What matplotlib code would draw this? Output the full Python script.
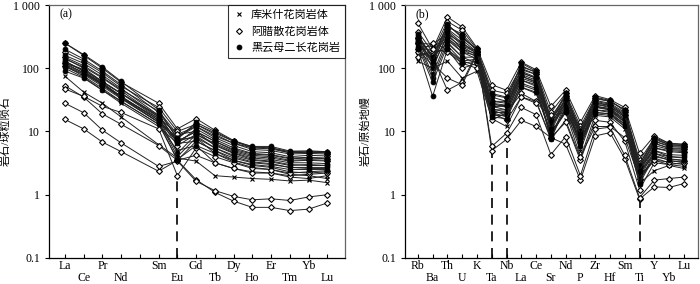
import numpy as np
import matplotlib
matplotlib.use("Agg")
import matplotlib.pyplot as plt

plt.rcParams['font.family'] = ['Liberation Serif', 'Noto Sans CJK SC']
plt.rcParams['axes.unicode_minus'] = False

# chondrite-normalised REE (Pm not analysed -> None)
ree_elements = ['La', 'Ce', 'Pr', 'Nd', 'Pm', 'Sm', 'Eu', 'Gd', 'Tb', 'Dy', 'Ho', 'Er', 'Tm', 'Yb', 'Lu']

kumishi_ree = [
    [75, 42, 28, 17, None, 6.2, 3.8, 3.4, 2.0, 1.9, 1.8, 1.75, 1.65, 1.7, 1.55],
    [110, 75, 48, 30, None, 13, 5.0, 6.0, 3.2, 2.6, 2.3, 2.2, 1.9, 1.8, 2.0],
    [130, 90, 58, 36, None, 15, 7.5, 8.0, 4.5, 3.3, 2.7, 2.5, 2.1, 2.0, 1.8],
    [100, 72, 45, 28, None, 12, 6.5, 7.0, 5.0, 3.5, 2.9, 2.7, 2.3, 2.2, 2.3],
    [145, 100, 62, 40, None, 17, 9.0, 10, 6.0, 4.5, 3.6, 3.4, 3.0, 2.9, 2.9],
    [120, 85, 55, 34, None, 14, 7.0, 8.5, 5.5, 4.0, 3.3, 3.1, 2.7, 2.6, 2.6],
]
alasan_ree = [
    [250, 160, 100, 60, None, 28, 11, 16, 10.5, 7.2, 5.7, 5.5, 4.8, 4.9, 4.8],
    [180, 130, 85, 52, None, 24, 10, 13, 9.0, 6.5, 5.2, 5.0, 4.4, 4.5, 4.4],
    [150, 110, 72, 46, None, 21, 9.0, 12, 8.0, 6.0, 4.8, 4.6, 4.0, 4.2, 4.1],
    [120, 95, 60, 40, None, 18, 7.0, 10, 7.0, 5.2, 4.4, 4.2, 3.7, 3.8, 3.7],
    [110, 82, 55, 35, None, 16, 6.0, 9.0, 6.5, 4.8, 4.0, 3.8, 3.4, 3.5, 3.4],
    [53, 35, 19, 13, None, 6.0, 3.5, 4.2, 3.2, 2.6, 2.2, 2.2, 2.0, 2.1, 2.2],
    [47, 36, 25, 20, None, 11, 2.0, 5.5, 4.0, 3.2, 2.6, 2.5, 2.2, 2.3, 2.4],
    [15.5, 11, 6.8, 4.8, None, 2.35, 3.5, 1.73, 1.09, 0.79, 0.63, 0.63, 0.56, 0.59, 0.74],
    [28, 19.8, 10.5, 6.6, None, 2.8, 3.4, 1.63, 1.16, 0.94, 0.83, 0.86, 0.81, 0.92, 1.0],
]
biotite_ree = [
    [250, 165, 105, 62, None, 22, 7.5, 14, 10, 7.0, 5.8, 5.8, 4.9, 4.9, 4.8],
    [200, 140, 90, 55, None, 20, 8.0, 12, 8.5, 6.5, 5.5, 5.3, 4.6, 4.7, 4.6],
    [160, 120, 78, 48, None, 18, 6.5, 11, 7.5, 5.5, 4.5, 4.3, 3.8, 3.9, 3.8],
    [140, 105, 70, 44, None, 17, 7.0, 10, 7.0, 5.0, 4.2, 4.0, 3.5, 3.6, 3.5],
    [125, 95, 62, 40, None, 16, 4.5, 9.0, 6.2, 4.6, 3.8, 3.6, 3.2, 3.2, 3.1],
    [115, 85, 58, 36, None, 15, 4.0, 8.0, 5.5, 4.2, 3.5, 3.3, 2.9, 3.0, 2.9],
    [105, 80, 52, 33, None, 14, 3.5, 7.0, 5.0, 3.8, 3.2, 3.0, 2.7, 2.7, 2.7],
    [90, 70, 45, 30, None, 13, 3.6, 6.0, 4.5, 3.5, 3.0, 2.8, 2.5, 2.5, 2.5],
    [130, 90, 56, 35, None, 14, 8.0, 13, 9.5, 7.0, 5.5, 5.5, 4.6, 4.7, 4.6],
]

# primitive-mantle-normalised trace elements
spider_elements = ['Rb', 'Ba', 'Th', 'U', 'K', 'Ta', 'Nb', 'La', 'Ce', 'Sr',
                   'Nd', 'P', 'Zr', 'Hf', 'Sm', 'Ti', 'Y', 'Yb', 'Lu']

kumishi_spider = [
    [130, 100, 130, 70, 90, 16, 12, 35, 30, 7.5, 15, 3.8, 18, 17, 11, 1.5, 2.4, 2.9, 2.6],
    [180, 150, 250, 150, 120, 22, 18, 55, 45, 9, 22, 5, 22, 20, 13, 2.0, 3.5, 3.0, 2.8],
    [220, 220, 300, 200, 150, 25, 22, 70, 58, 14, 28, 7, 25, 22, 15, 2.2, 4.2, 3.5, 3.2],
    [160, 180, 200, 130, 110, 20, 17, 50, 40, 10, 20, 6, 20, 19, 12, 1.8, 3.8, 3.2, 3.0],
    [250, 240, 350, 250, 170, 28, 24, 80, 65, 16, 30, 8, 27, 24, 17, 2.6, 5.0, 4.0, 3.8],
    [200, 200, 280, 180, 140, 23, 20, 65, 52, 12, 25, 6.5, 24, 22, 14, 2.3, 4.5, 3.7, 3.5],
]
alasan_spider = [
    [520, 200, 650, 450, 210, 55, 45, 125, 95, 25, 45, 14, 37, 32, 24, 4.5, 8.5, 6.5, 6.3],
    [380, 180, 550, 400, 200, 45, 40, 105, 88, 20, 40, 12, 34, 30, 22, 3.5, 7.8, 6.2, 6.0],
    [300, 160, 480, 320, 190, 38, 34, 95, 80, 17, 36, 11, 31, 28, 20, 3.2, 7.0, 5.8, 5.6],
    [250, 140, 420, 280, 180, 30, 30, 85, 70, 15, 32, 10, 28, 26, 18, 2.8, 6.5, 5.4, 5.2],
    [200, 110, 320, 220, 160, 25, 26, 75, 60, 12, 28, 9, 25, 23, 16, 2.5, 5.5, 5.0, 4.8],
    [180, 250, 200, 100, 120, 15, 20, 40, 30, 8, 14, 3.5, 15, 14, 7, 1.2, 3.2, 3.0, 3.2],
    [150, 200, 180, 120, 100, 20, 15, 35, 28, 18, 20, 4, 12, 12, 8, 1.8, 3.5, 3.3, 3.4],
    [300, 150, 45, 60, 180, 5.0, 7.5, 15, 12, 8, 6.3, 1.7, 8.5, 9.6, 3.7, 0.85, 1.33, 1.3, 1.5],
    [250, 120, 70, 55, 170, 5.8, 9.4, 24, 18.5, 4.3, 8.3, 2.0, 10.9, 11.7, 4.2, 0.9, 1.7, 1.8, 1.9],
]
biotite_spider = [
    [350, 140, 500, 300, 200, 35, 30, 120, 90, 15, 40, 9, 33, 30, 22, 3.0, 8.0, 6.5, 6.2],
    [300, 120, 400, 250, 180, 30, 28, 100, 80, 12, 35, 8, 30, 27, 19, 2.5, 7.0, 6.0, 5.8],
    [280, 100, 350, 200, 170, 25, 25, 85, 70, 10, 30, 7, 27, 25, 17, 2.2, 6.0, 5.2, 5.0],
    [260, 80, 300, 180, 160, 22, 22, 75, 62, 8, 28, 6.5, 25, 23, 15, 2.0, 5.5, 4.8, 4.6],
    [240, 70, 260, 150, 150, 20, 20, 65, 55, 7.5, 25, 6, 22, 21, 14, 1.8, 5.0, 4.3, 4.2],
    [220, 60, 230, 130, 140, 18, 18, 58, 48, 8.5, 22, 7, 20, 19, 13, 1.6, 4.5, 4.0, 3.9],
    [200, 36, 200, 120, 130, 17, 16, 50, 42, 9, 20, 8, 19, 18, 12, 1.5, 4.0, 3.6, 3.5],
    [330, 150, 450, 350, 190, 40, 35, 110, 85, 14, 38, 10, 35, 31, 21, 2.8, 7.5, 6.2, 6.0],
    [270, 130, 380, 230, 175, 28, 26, 90, 72, 11, 33, 9, 29, 26, 18, 2.4, 6.5, 5.5, 5.4],
]

group_labels = ['库米什花岗岩体', '阿腊散花岗岩体', '黑云母二长花岗岩']
group_styles = [
    dict(marker='x', mfc='black', ms=3.5, mew=0.8),
    dict(marker='D', mfc='white', ms=3.0, mew=0.8),
    dict(marker='o', mfc='black', ms=3.5, mew=0.6),
]


def draw_panel(ax, elements, groups, dashed_at, ylabel, tag, label_x):
    x = np.arange(len(elements))
    for samples, style in zip(groups, group_styles):
        for s in samples:
            y = np.array([np.nan if v is None else v for v in s], dtype=float)
            ok = np.isfinite(y)
            ax.plot(x[ok], y[ok], color='#222222', lw=0.7, mec='black', **style)

    # dashed anomaly markers, from the lowest sample down to the axis floor
    all_vals = np.array([[np.nan if v is None else v for v in s]
                         for g in groups for s in g], dtype=float)
    for name in dashed_at:
        i = elements.index(name)
        ax.plot([i, i], [0.1, np.nanmin(all_vals[:, i])], color='black',
                lw=1.2, ls=(0, (6, 4)), zorder=0)

    ax.set_yscale('log')
    ax.set_ylim(0.1, 1000)
    ax.set_xlim(-0.85, len(elements) - 1 + 0.95)
    ax.set_yticks([0.1, 1, 10, 100, 1000])
    ax.set_yticklabels(['0.1', '1', '10', '100', '1 000'])
    ax.yaxis.set_minor_locator(matplotlib.ticker.NullLocator())
    ax.set_xticks(x)
    ax.set_xticklabels(['' if e == 'Pm' else e for e in elements])
    ax.tick_params(axis='x', direction='in', length=3, labelsize=8.5)
    ax.tick_params(axis='y', direction='out', length=3, labelsize=8.5)
    # alternate labels between two rows (Pm has no label)
    k = 0
    for tick, e in zip(ax.xaxis.get_major_ticks(), elements):
        if e == 'Pm':
            continue
        tick.set_pad(1.5 if k % 2 == 0 else 10.5)
        k += 1
    ax.set_ylabel(ylabel, fontsize=8)
    ax.yaxis.set_label_coords(label_x, 0.5)
    ax.text(0.035, 0.965, tag, transform=ax.transAxes, fontsize=8.5, va='center')
    for side in ['top', 'right']:
        ax.spines[side].set_color('#666666')
    for sp in ax.spines.values():
        sp.set_linewidth(0.9)


fig = plt.figure(figsize=(7.0, 2.84), dpi=100)
ax_a = fig.add_axes([0.07, 0.092, 0.423, 0.89])
ax_b = fig.add_axes([0.579, 0.092, 0.418, 0.89])

draw_panel(ax_a, ree_elements, [kumishi_ree, alasan_ree, biotite_ree],
           ['Eu'], '岩石/球粒陨石', '(a)', -0.13)
draw_panel(ax_b, spider_elements, [kumishi_spider, alasan_spider, biotite_spider],
           ['Ta', 'Nb', 'Ti'], '岩石/原始地幔', '(b)', -0.12)

handles = [plt.Line2D([], [], ls='none', color='black', mec='black', **st)
           for st in group_styles]
leg = ax_a.legend(handles, group_labels, loc='upper right', fontsize=8,
                  frameon=True, fancybox=False, borderaxespad=0,
                  handlelength=1.0, handletextpad=0.6, labelspacing=0.55,
                  borderpad=0.45)
leg.get_frame().set_edgecolor('black')
leg.get_frame().set_linewidth(0.8)

fig.savefig('out.png', dpi=100)
